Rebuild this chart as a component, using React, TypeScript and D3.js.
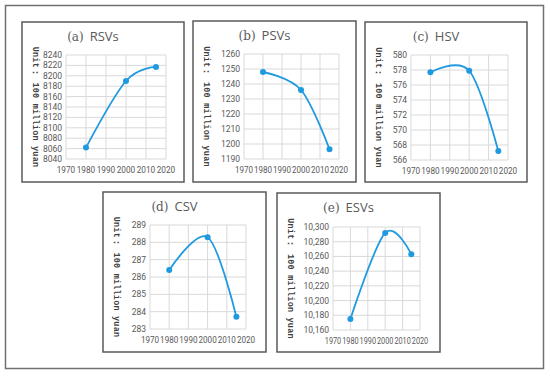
import React from 'react';
import * as d3 from 'd3';

// Data
const years = [1980, 2000, 2015];
const xTicks = [1970, 1980, 1990, 2000, 2010, 2020];

const rsvValues = [8062, 8190, 8217];
const psvValues = [1248, 1236, 1196.5];
const hsvValues = [577.7, 577.9, 567.2];
const csvValues = [286.4, 288.3, 283.7];
const esvValues = [10175, 10292, 10263];

const rsvTicks = [8040, 8060, 8080, 8100, 8120, 8140, 8160, 8180, 8200, 8220, 8240];
const psvTicks = [1190, 1200, 1210, 1220, 1230, 1240, 1250, 1260];
const hsvTicks = [566, 568, 570, 572, 574, 576, 578, 580];
const csvTicks = [283, 284, 285, 286, 287, 288, 289];
const esvTicks = [10160, 10180, 10200, 10220, 10240, 10260, 10280, 10300];

const BLUE = '#1f9ae0';
const TEXT = '#595959';
const GRID = '#d9d9d9';

interface Panel {
  letter: string;
  name: string;
  values: number[];
  ticks: number[];
  fmt: (v: number) => string;
  box: [number, number, number, number]; // x0, y0, x1, y1
  plot: [number, number, number, number];
}

const plain = (v: number) => String(v);
const comma = d3.format(',');

const panels: Panel[] = [
  { letter: '(a)', name: 'RSVs', values: rsvValues, ticks: rsvTicks, fmt: plain, box: [22, 22, 184, 182], plot: [66, 55, 166, 159] },
  { letter: '(b)', name: 'PSVs', values: psvValues, ticks: psvTicks, fmt: plain, box: [193, 21, 356, 182], plot: [244, 54, 339, 159] },
  { letter: '(c)', name: 'HSV', values: hsvValues, ticks: hsvTicks, fmt: plain, box: [365, 22, 527, 182], plot: [411, 55, 508, 160] },
  { letter: '(d)', name: 'CSV', values: csvValues, ticks: csvTicks, fmt: plain, box: [103, 192, 266, 352], plot: [150, 225, 246, 329] },
  { letter: '(e)', name: 'ESVs', values: esvValues, ticks: esvTicks, fmt: comma, box: [277, 193, 440, 352], plot: [333, 227, 420, 330] },
];

const ChartPanel: React.FC<{ p: Panel }> = ({ p }) => {
  const [bx0, by0, bx1, by1] = p.box;
  const [px0, py0, px1, py1] = p.plot;
  const x = d3.scaleLinear().domain([1970, 2020]).range([px0, px1]);
  const y = d3.scaleLinear().domain([p.ticks[0], p.ticks[p.ticks.length - 1]]).range([py1, py0]);
  const pts = years.map((yr, i) => [yr, p.values[i]] as [number, number]);
  const line = d3.line<[number, number]>()
    .x(d => x(d[0]))
    .y(d => y(d[1]))
    .curve(d3.curveCardinal.tension(0));
  const cx = (bx0 + bx1) / 2 - 10;
  const step = x(1980) - x(1970);
  const labelLen = Math.min(18.5, step - 1);

  return (
    <g>
      <rect x={bx0} y={by0} width={bx1 - bx0} height={by1 - by0} fill="#fff" stroke="#595959" strokeWidth={1.5} />
      {/* grid */}
      {p.ticks.map(t => (
        <line key={'h' + t} x1={px0} x2={px1} y1={y(t)} y2={y(t)} stroke={GRID} strokeWidth={1} />
      ))}
      {xTicks.map(t => (
        <line key={'v' + t} x1={x(t)} x2={x(t)} y1={py0} y2={py1} stroke={GRID} strokeWidth={1} />
      ))}
      {/* tick labels */}
      {p.ticks.map(t => (
        <text key={'yl' + t} x={px0 - 4} y={y(t)} dy="0.35em" textAnchor="end" fontSize={8.5} fill={TEXT} fontFamily="Roboto, sans-serif">
          {p.fmt(t)}
        </text>
      ))}
      {xTicks.map(t => (
        <text
          key={'xl' + t}
          x={x(t)}
          y={py1 + 14}
          textAnchor="middle"
          fontSize={8.5}
          fill={TEXT}
          fontFamily="Roboto, sans-serif"
          textLength={labelLen}
          lengthAdjust="spacingAndGlyphs"
        >
          {t}
        </text>
      ))}
      {/* title */}
      <text x={cx} y={by0 + 19} textAnchor="middle" fontSize={13} fill={TEXT}>
        <tspan fontFamily="'DejaVu Serif', serif" fontSize={12}>{p.letter}</tspan>
        <tspan fontFamily="'Open Sans', sans-serif" dx={6}>{p.name}</tspan>
      </text>
      {/* y axis title */}
      <text
        transform={`translate(${bx0 + 11},${(py0 + py1) / 2}) rotate(90)`}
        textAnchor="middle"
        fontSize={8.5}
        fontWeight="bold"
        fill="#404040"
        fontFamily="'Liberation Mono', monospace"
        letterSpacing={0.2}
      >
        Unit： 100 million yuan
      </text>
      {/* series */}
      <path d={line(pts) || ''} fill="none" stroke={BLUE} strokeWidth={1.8} />
      {pts.map((d, i) => (
        <circle key={i} cx={x(d[0])} cy={y(d[1])} r={3} fill={BLUE} />
      ))}
    </g>
  );
};

const App: React.FC = () => (
  <svg width={550} height={377} style={{ position: 'absolute', left: 0, top: 0, background: '#fff' }}>
    <rect x={0} y={0} width={550} height={377} fill="#fff" />
    <rect x={5.5} y={5.5} width={538} height={363} fill="none" stroke="#707070" strokeWidth={1.5} />
    {panels.map(p => (
      <ChartPanel key={p.letter} p={p} />
    ))}
  </svg>
);

export default App;
